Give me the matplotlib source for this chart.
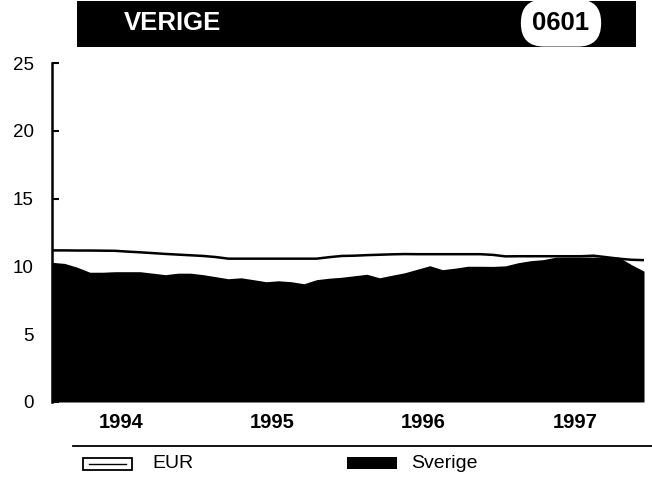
import matplotlib
matplotlib.use('Agg')
import numpy as np
import matplotlib.pyplot as plt
import matplotlib.patches as mpatches
import matplotlib.lines as mlines

plt.rcParams['font.family'] = ['Liberation Sans', 'DejaVu Sans']

# monthly values, Jan 1994 - Dec 1997
months = np.arange(48)
t = 1994 + months / 12.

sverige = [10.30, 10.22, 9.94, 9.57, 9.57, 9.61, 9.61, 9.61, 9.50, 9.39, 9.50, 9.50,
           9.39, 9.24, 9.09, 9.16, 9.02, 8.87, 8.94, 8.87, 8.72, 9.02, 9.13, 9.20,
           9.31, 9.42, 9.16, 9.35, 9.53, 9.79, 10.05, 9.76, 9.87, 10.01, 10.01, 10.00,
           10.04, 10.27, 10.42, 10.50, 10.68, 10.69, 10.69, 10.69, 10.69, 10.68, 10.13, 9.65]

eur = [11.18, 11.18, 11.17, 11.17, 11.16, 11.15, 11.09, 11.04, 10.98, 10.92, 10.87, 10.82,
       10.77, 10.69, 10.57, 10.57, 10.57, 10.57, 10.57, 10.57, 10.57, 10.57, 10.68, 10.77,
       10.79, 10.83, 10.86, 10.89, 10.91, 10.90, 10.90, 10.90, 10.90, 10.90, 10.90, 10.85,
       10.74, 10.75, 10.75, 10.75, 10.75, 10.75, 10.75, 10.79, 10.68, 10.57, 10.49, 10.46]

years = ['1994', '1995', '1996', '1997']
year_pos = [1994 + k + 5.5 / 12. for k in range(4)]

W, H = 652, 479
fig = plt.figure(figsize=(W / 100., H / 100.), dpi=100)


def fx(px):
    return px / W


def fy(py):
    return 1 - py / H


ax = fig.add_axes([fx(52), fy(402), 592 / W, 339 / H])

ax.fill_between(t, 0, sverige, color='black', lw=0)
ax.plot(t, eur, color='black', lw=1.8)

ax.set_xlim(t[0], t[-1])
ax.set_ylim(0, 25)
for s in ['top', 'right', 'bottom']:
    ax.spines[s].set_visible(False)
ax.spines['left'].set_linewidth(1.8)

ax.set_yticks(range(0, 26, 5))
ax.tick_params(axis='y', direction='in', length=5, width=1.5, pad=13, labelsize=13.5)
ax.set_xticks(year_pos)
ax.set_xticklabels(years, fontweight='bold', fontsize=14.5)
ax.tick_params(axis='x', length=0, pad=8)

# rule under the year labels
fig.add_artist(mlines.Line2D([fx(73), fx(652)], [fy(446), fy(446)], color='black', lw=1.3))

# title bar
fig.add_artist(mpatches.Rectangle((fx(77), fy(47)), fx(636) - fx(77), 46 / H,
                                  transform=fig.transFigure, facecolor='black', edgecolor='none'))
fig.text(fx(124), fy(23), 'VERIGE', color='white', fontsize=18.5, fontweight='bold',
         ha='left', va='center')
fig.text(fx(561), fy(23), '0601', color='black', fontsize=18.5, fontweight='bold',
         ha='center', va='center',
         bbox=dict(boxstyle='round,pad=0.45,rounding_size=0.9', fc='white', ec='none'))

# legend
fig.add_artist(mpatches.Rectangle((fx(83), fy(470)), 49 / W, 12 / H, transform=fig.transFigure,
                                  facecolor='white', edgecolor='black', lw=1.3))
fig.add_artist(mlines.Line2D([fx(89), fx(126)], [fy(464), fy(464)], color='black', lw=1.0))
fig.text(fx(152), fy(464), 'EUR', fontsize=14, ha='left', va='center')

fig.add_artist(mpatches.Rectangle((fx(347), fy(469)), 50 / W, 12 / H, transform=fig.transFigure,
                                  facecolor='black', edgecolor='none'))
fig.text(fx(411), fy(464), 'Sverige', fontsize=14, ha='left', va='center')

fig.savefig('out.png', dpi=100)
